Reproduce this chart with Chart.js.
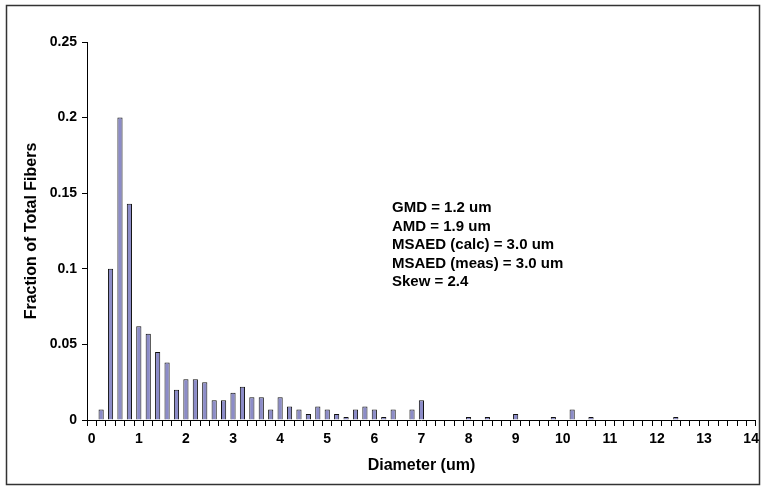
<!DOCTYPE html>
<html>
<head>
<meta charset="utf-8">
<script src="https://cdn.jsdelivr.net/npm/chart.js@4.4.1/dist/chart.umd.min.js"></script>
<style>
html,body{margin:0;padding:0;background:#fff;}
#wrap{width:764px;height:489px;position:relative;}
</style>
</head>
<body>
<div id="wrap"><canvas id="c" width="764" height="489"></canvas></div>
<script>
// Diameter categories (um), 0 to 14 in 0.2 steps
const diameters = [
  "0","0.2","0.4","0.6","0.8","1","1.2","1.4","1.6","1.8",
  "2","2.2","2.4","2.6","2.8","3","3.2","3.4","3.6","3.8",
  "4","4.2","4.4","4.6","4.8","5","5.2","5.4","5.6","5.8",
  "6","6.2","6.4","6.6","6.8","7","7.2","7.4","7.6","7.8",
  "8","8.2","8.4","8.6","8.8","9","9.2","9.4","9.6","9.8",
  "10","10.2","10.4","10.6","10.8","11","11.2","11.4","11.6","11.8",
  "12","12.2","12.4","12.6","12.8","13","13.2","13.4","13.6","13.8","14"
];
// Fraction of total fibers per category
const fractions = [
  0,0.007,0.100,0.200,0.143,0.062,0.057,0.045,0.038,0.020,
  0.027,0.027,0.025,0.013,0.013,0.018,0.022,0.015,0.015,0.007,
  0.015,0.009,0.007,0.004,0.009,0.007,0.004,0.002,0.007,0.009,
  0.007,0.002,0.007,0,0.007,0.013,0,0,0,0,
  0.002,0,0.002,0,0,0.004,0,0,0,0.002,
  0,0.007,0,0.002,0,0,0,0,0,0,
  0,0,0.002,0,0,0,0,0,0,0,0
];
const yTicks = [0,0.05,0.1,0.15,0.2,0.25];
const statsText = [
  "GMD = 1.2 um",
  "AMD = 1.9 um",
  "MSAED (calc) = 3.0 um",
  "MSAED (meas) = 3.0 um",
  "Skew = 2.4"
];

const FONT = "'Liberation Sans', Arial, sans-serif";

const framePlugin = {
  id: 'frame',
  afterDraw(chart) {
    const ctx = chart.ctx;
    ctx.save();
    ctx.strokeStyle = '#333';
    ctx.lineWidth = 1.5;
    ctx.strokeRect(6.5, 5.5, 753, 479);
    ctx.restore();
  }
};

const statsPlugin = {
  id: 'stats',
  afterDraw(chart) {
    const ctx = chart.ctx;
    const a = chart.chartArea;
    ctx.save();
    ctx.font = "bold 15px " + FONT;
    ctx.fillStyle = '#000';
    ctx.textBaseline = 'middle';
    ctx.textAlign = 'left';
    const x0 = a.left + 305;
    const y0 = a.top + 166;
    statsText.forEach((t, i) => ctx.fillText(t, x0, y0 + i * 18.5));
    ctx.restore();
  }
};

new Chart(document.getElementById('c'), {
  type: 'bar',
  data: {
    labels: diameters,
    datasets: [{
      data: fractions,
      backgroundColor: '#8c8cc8',
      borderColor: '#111',
      borderWidth: 1,
      barPercentage: 0.55,
      categoryPercentage: 1.0
    }]
  },
  options: {
    responsive: false,
    animation: false,
    events: [],
    layout: { padding: { left: 14, right: 8, top: 42, bottom: 12 } },
    plugins: {
      legend: { display: false },
      tooltip: { enabled: false }
    },
    scales: {
      x: {
        type: 'category',
        offset: true,
        grid: {
          offset: true,
          drawOnChartArea: false,
          drawTicks: true,
          tickLength: 6,
          color: '#000',
          lineWidth: 1
        },
        border: { display: true, color: '#000', width: 1 },
        ticks: {
          autoSkip: false,
          maxRotation: 0,
          minRotation: 0,
          padding: 5,
          color: '#000',
          font: { family: FONT, size: 14, weight: 'bold' },
          callback: function(v, i) { return (i % 5 === 0) ? diameters[i] : ''; }
        },
        title: {
          display: true,
          text: 'Diameter (um)',
          color: '#000',
          font: { family: FONT, size: 16, weight: 'bold' },
          padding: { top: 0, bottom: 2 }
        },
        afterFit(scale) { scale.height = 57; }
      },
      y: {
        min: 0,
        max: 0.25,
        afterBuildTicks(scale) { scale.ticks = yTicks.map(v => ({ value: v })); },
        grid: {
          drawOnChartArea: false,
          drawTicks: true,
          tickLength: 5,
          color: '#000'
        },
        border: { display: true, color: '#000', width: 1 },
        ticks: {
          padding: 5,
          color: '#000',
          font: { family: FONT, size: 14, weight: 'bold' },
          callback: function(v) { return String(+Number(v).toFixed(2)); }
        },
        title: {
          display: true,
          text: 'Fraction of Total Fibers',
          color: '#000',
          font: { family: FONT, size: 16, weight: 'bold' },
          padding: { top: 8, bottom: 0 }
        },
        afterFit(scale) { scale.width = 73; }
      }
    }
  },
  plugins: [framePlugin, statsPlugin]
});
</script>
</body>
</html>
